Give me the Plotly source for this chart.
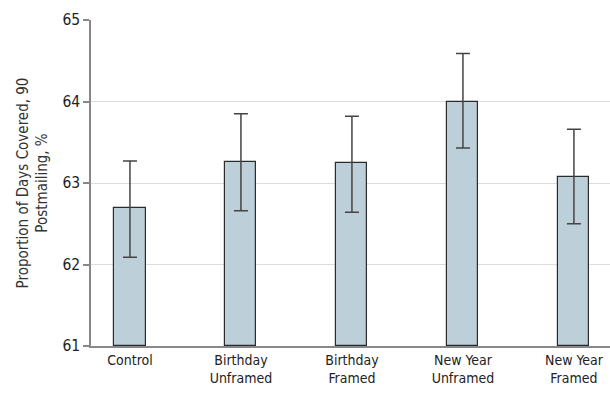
import plotly.graph_objects as go

categories = ["Control", "Birthday<br>Unframed", "Birthday<br>Framed", "New Year<br>Unframed", "New Year<br>Framed"]
values = [62.69, 63.26, 63.24, 64.00, 63.07]
upper = [63.27, 63.85, 63.82, 64.59, 63.66]
lower = [62.09, 62.66, 62.64, 63.43, 62.50]
y_ticks = [61, 62, 63, 64, 65]

err_plus = [u - v for u, v in zip(upper, values)]
err_minus = [v - l for v, l in zip(values, lower)]

fig = go.Figure(go.Bar(
    x=list(range(len(categories))),
    y=[v - 61 for v in values],
    base=61,
    width=0.28,
    marker=dict(color="#bdd0d9", line=dict(color="#2b2b2b", width=1.2)),
    error_y=dict(type="data", array=err_plus, arrayminus=err_minus,
                 color="#444444", thickness=1.5, width=7),
))

fig.update_layout(
    width=610, height=400,
    margin=dict(l=91, r=0, t=20, b=54),
    plot_bgcolor="white", paper_bgcolor="white",
    font=dict(family="DejaVu Sans Condensed, Roboto, sans-serif", color="#222222"),
    showlegend=False,
    bargap=0,
)
fig.update_xaxes(
    range=[-0.351, 4.325],
    tickvals=list(range(len(categories))), ticktext=categories,
    showline=True, linecolor="#888888", linewidth=1.5,
    ticks="", showgrid=False, zeroline=False,
    tickfont=dict(size=14),
)
fig.update_yaxes(
    range=[61, 65],
    tickvals=y_ticks,
    showline=True, linecolor="#888888", linewidth=1.5,
    ticks="outside", ticklen=6, tickcolor="#888888", tickwidth=1.5,
    showgrid=True, gridcolor="#dddddd", gridwidth=1.2,
    zeroline=False,
    tickfont=dict(size=15.5),
    title=dict(text="Proportion of Days Covered, 90<br>Postmailing, %", font=dict(size=15, color="#333333"), standoff=11),
)

fig.write_html("out.html", post_script="document.body.style.margin='0';",
               config={"displayModeBar": False})
